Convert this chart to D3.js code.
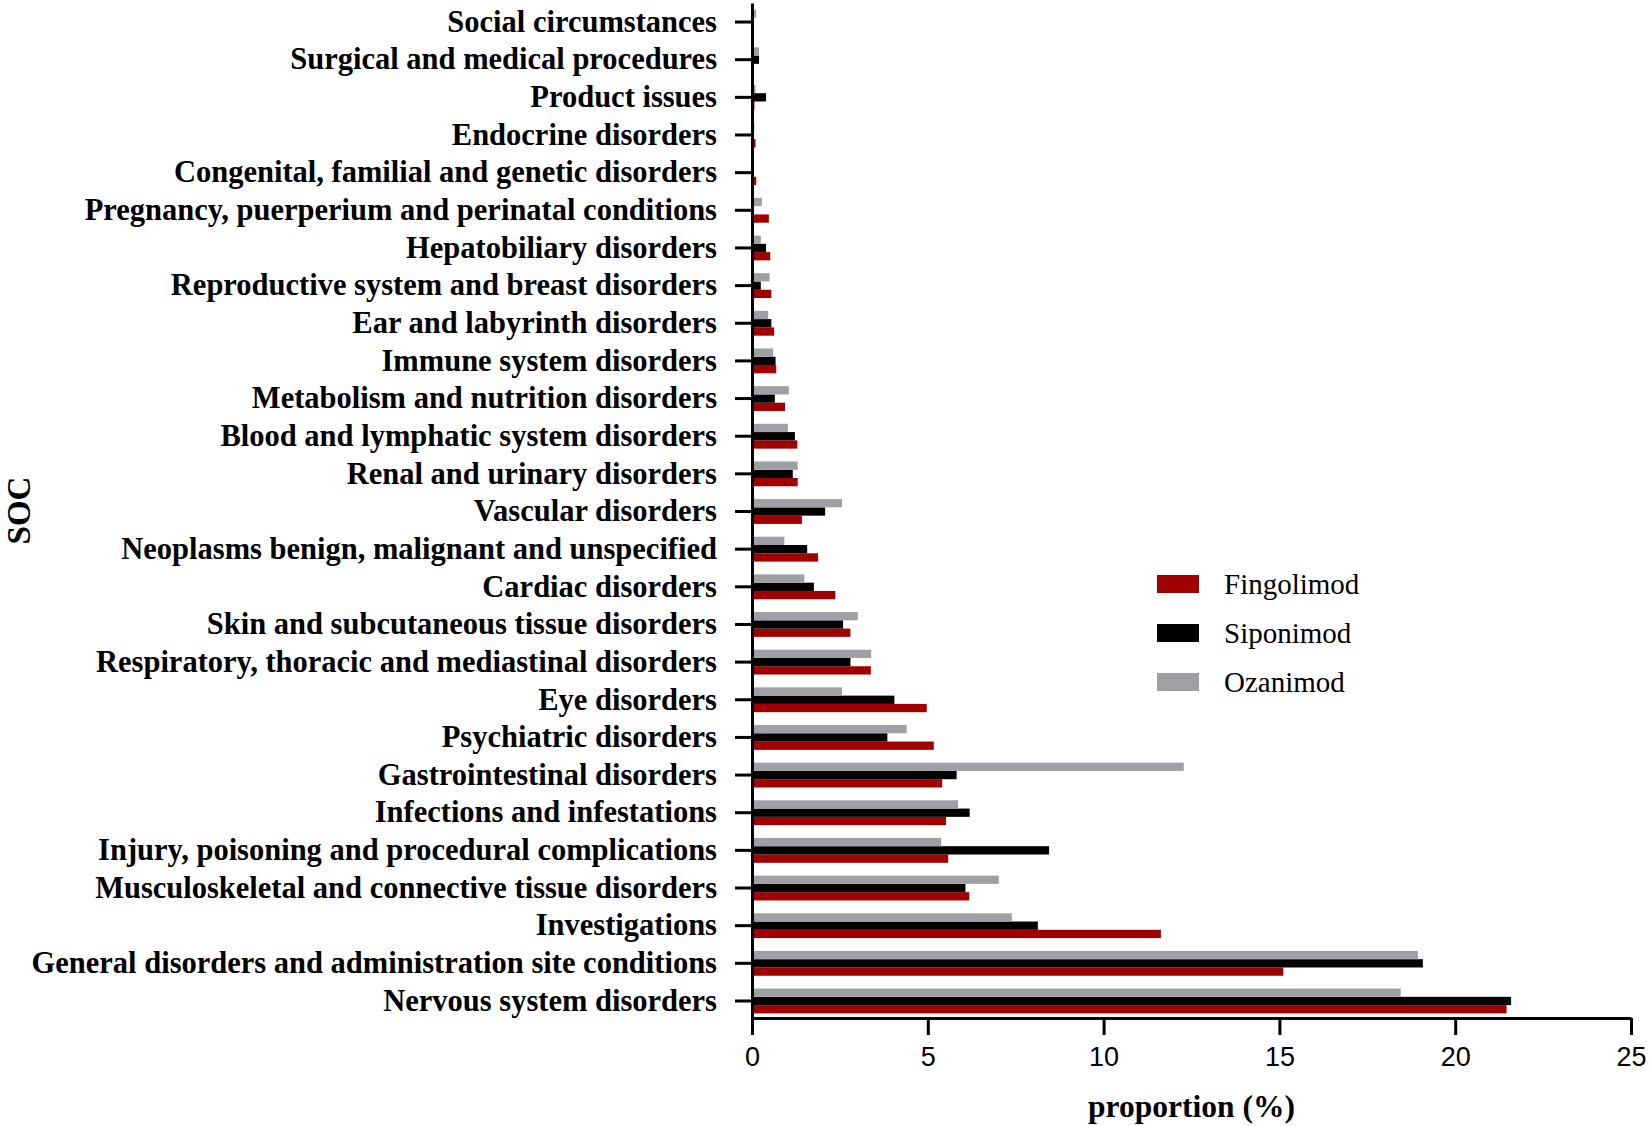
<!DOCTYPE html>
<html>
<head>
<meta charset="utf-8">
<script src="https://cdn.jsdelivr.net/npm/d3@7"></script>
<style>
  body { margin: 0; background: #fff; }
  svg { display: block; }
  .ylab text { font-family: "Liberation Serif", "Times New Roman", serif; font-weight: bold; font-size: 30.5px; fill: #000; }
  .xax text { font-family: "Liberation Sans", Arial, sans-serif; font-size: 27px; fill: #000; }
</style>
</head>
<body>
<div id="chart"></div>
<script>
// SOC categories, top to bottom as drawn
const categories = [
  "Social circumstances",
  "Surgical and medical procedures",
  "Product issues",
  "Endocrine disorders",
  "Congenital, familial and genetic disorders",
  "Pregnancy, puerperium and perinatal conditions",
  "Hepatobiliary disorders",
  "Reproductive system and breast disorders",
  "Ear and labyrinth disorders",
  "Immune system disorders",
  "Metabolism and nutrition disorders",
  "Blood and lymphatic system disorders",
  "Renal and urinary disorders",
  "Vascular disorders",
  "Neoplasms benign, malignant and unspecified",
  "Cardiac disorders",
  "Skin and subcutaneous tissue disorders",
  "Respiratory, thoracic and mediastinal disorders",
  "Eye disorders",
  "Psychiatric disorders",
  "Gastrointestinal disorders",
  "Infections and infestations",
  "Injury, poisoning and procedural complications",
  "Musculoskeletal and connective tissue disorders",
  "Investigations",
  "General disorders and administration site conditions",
  "Nervous system disorders"
];

// proportion (%) per drug, same order as categories
const fingolimod = [0, 0.05, 0.07, 0.1, 0.12, 0.48, 0.52, 0.55, 0.63, 0.69, 0.94, 1.29, 1.3, 1.42, 1.88,
  2.37, 2.8, 3.38, 4.97, 5.17, 5.41, 5.52, 5.58, 6.18, 11.63, 15.11, 21.46];
const siponimod = [0, 0.2, 0.4, 0, 0, 0, 0.4, 0.25, 0.55, 0.67, 0.65, 1.22, 1.16, 2.08, 1.57,
  1.76, 2.59, 2.8, 4.05, 3.85, 5.82, 6.19, 8.45, 6.07, 8.13, 19.08, 21.59];
const ozanimod = [0.12, 0.2, 0.1, 0.07, 0, 0.28, 0.25, 0.5, 0.46, 0.6, 1.05, 1.02, 1.3, 2.56, 0.92,
  1.49, 3.01, 3.39, 2.56, 4.4, 12.28, 5.86, 5.38, 7.02, 7.39, 18.94, 18.45];

const seriesNames = ["Fingolimod", "Siponimod", "Ozanimod"];
const seriesValues = [fingolimod, siponimod, ozanimod];
const colors = ["#a00000", "#000000", "#a0a0a4"];
// within each group Ozanimod sits on top, Fingolimod at the bottom
const stackOrder = ["Ozanimod", "Siponimod", "Fingolimod"];
const xTicks = [0, 5, 10, 15, 20, 25];

const W = 1649, H = 1126;
const svg = d3.select("#chart").append("svg")
  .attr("width", W).attr("height", H);

const x = d3.scaleLinear().domain([0, 25]).range([752, 1631]);
const y = d3.scaleBand().domain(categories).range([3, 1018])
  .paddingInner(0.34).paddingOuter(0.149).align(0.59);
const ySub = d3.scaleBand().domain(stackOrder).range([0, y.bandwidth()]);
const color = d3.scaleOrdinal().domain(seriesNames).range(colors);

const rows = categories.map((c, i) => ({
  cat: c,
  vals: seriesNames.map((s, j) => ({ name: s, v: seriesValues[j][i] }))
}));

// bars
svg.append("g").selectAll("g")
  .data(rows)
  .enter().append("g")
  .attr("transform", d => `translate(0,${y(d.cat)})`)
  .selectAll("rect")
  .data(d => d.vals.filter(v => v.v > 0))
  .enter().append("rect")
  .attr("x", x(0))
  .attr("y", d => ySub(d.name))
  .attr("width", d => x(d.v) - x(0))
  .attr("height", ySub.bandwidth())
  .attr("fill", d => color(d.name));

// y axis
const yAxis = svg.append("g")
  .attr("class", "ylab")
  .attr("transform", `translate(${x(0)},0)`)
  .call(d3.axisLeft(y).tickSize(17).tickSizeOuter(0).tickPadding(18));
yAxis.selectAll("line").attr("stroke", "#000").attr("stroke-width", 3);
yAxis.select(".domain").attr("stroke", "#000").attr("stroke-width", 3);

// x axis
const xAxis = svg.append("g")
  .attr("class", "xax")
  .attr("transform", `translate(0,1018)`)
  .call(d3.axisBottom(x).tickValues(xTicks).tickSize(17).tickSizeOuter(0).tickPadding(12));
xAxis.selectAll("line").attr("stroke", "#000").attr("stroke-width", 3);
xAxis.select(".domain").attr("stroke", "#000").attr("stroke-width", 3);

// axis titles
svg.append("text")
  .attr("x", (x(0) + x(25)) / 2).attr("y", 1117)
  .attr("text-anchor", "middle")
  .style("font-family", "'Liberation Serif', 'Times New Roman', serif")
  .style("font-weight", "bold").style("font-size", "31.5px")
  .text("proportion (%)");

svg.append("text")
  .attr("transform", `translate(30,${(3 + 1018) / 2}) rotate(-90)`)
  .attr("text-anchor", "middle")
  .style("font-family", "'Liberation Serif', 'Times New Roman', serif")
  .style("font-weight", "bold").style("font-size", "33px")
  .text("SOC");

// legend
const legend = svg.append("g").attr("transform", "translate(1157,575)");
const lg = legend.selectAll("g")
  .data(seriesNames)
  .enter().append("g")
  .attr("transform", (d, i) => `translate(0,${i * 49})`);
lg.append("rect")
  .attr("width", 42).attr("height", 18)
  .attr("fill", d => color(d));
lg.append("text")
  .attr("x", 67).attr("y", 19)
  .style("font-family", "'Liberation Serif', 'Times New Roman', serif")
  .style("font-size", "29px")
  .text(d => d);
</script>
</body>
</html>
